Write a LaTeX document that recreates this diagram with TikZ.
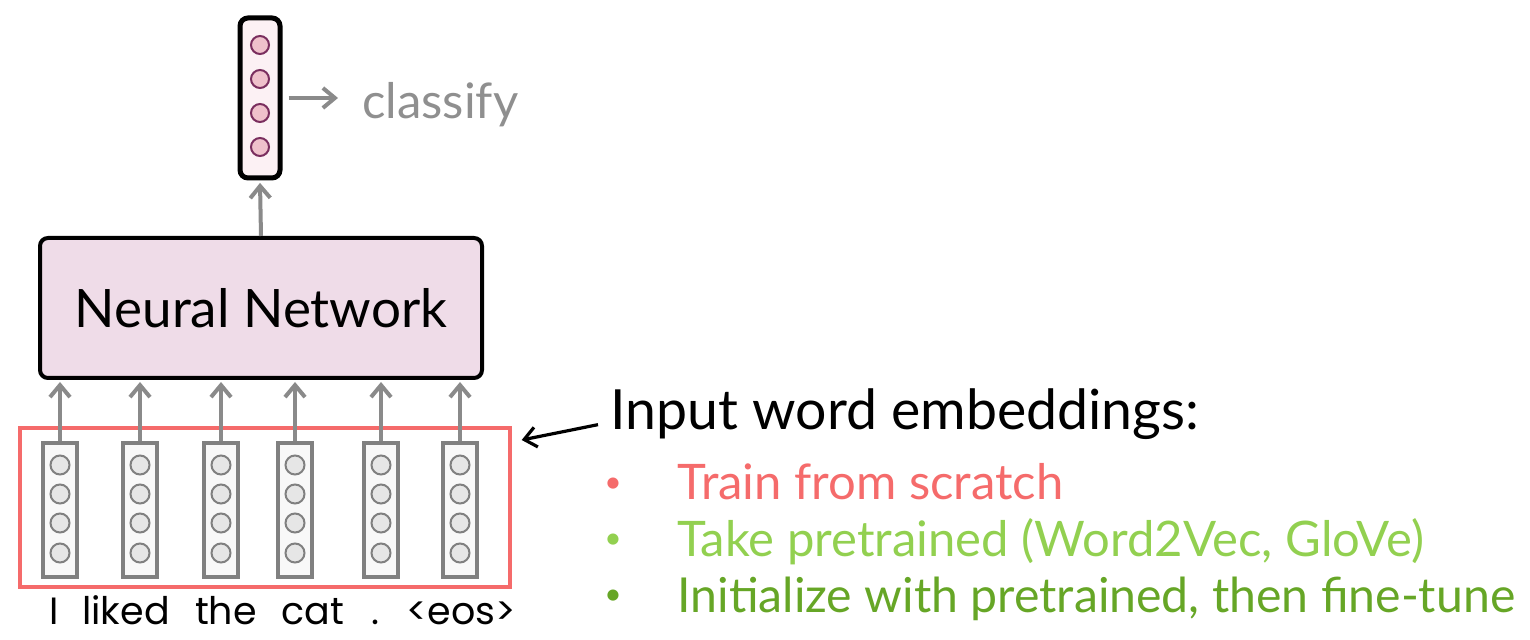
\documentclass[tikz,border=0pt]{standalone}
\usepackage{fontspec}
\setmainfont{Lato}
\newfontfamily\wordfont{Poppins}
\usetikzlibrary{arrows.meta}
\definecolor{garr}{HTML}{8A8A8A}
\definecolor{gtext}{HTML}{8F8F8F}
\definecolor{nnfill}{HTML}{EFDCE8}
\definecolor{vfill}{HTML}{FCF1F4}
\definecolor{cfill}{HTML}{EFC1CB}
\definecolor{cstroke}{HTML}{7A2E5E}
\definecolor{wfill}{HTML}{F8F8F8}
\definecolor{wcfill}{HTML}{E6E6E6}
\definecolor{wstroke}{HTML}{808080}
\definecolor{redc}{HTML}{F56B6B}
\definecolor{lgreen}{HTML}{92D050}
\definecolor{dgreen}{HTML}{66A626}
\tikzset{
  garrow/.style={draw=garr, line width=2pt, -{Straight Barb[length=6pt,width=10pt,line width=2pt]}},
  barrow/.style={draw=black, line width=1.6pt, -{Straight Barb[length=6pt,width=10pt,line width=1.6pt]}},
  outvec/.style={draw=black, line width=2.5pt, fill=vfill, rounded corners=4pt, minimum width=20pt, minimum height=80pt, inner sep=0pt},
  outcirc/.style={circle, draw=cstroke, line width=1pt, fill=cfill, minimum size=9pt, inner sep=0pt},
  nnbox/.style={draw=black, line width=2pt, fill=nnfill, rounded corners=4pt, minimum width=221pt, minimum height=70pt, inner sep=0pt},
  wvec/.style={draw=wstroke, line width=2pt, fill=wfill, minimum width=17pt, minimum height=67pt, inner sep=0pt},
  wcirc/.style={circle, draw=wstroke, line width=1pt, fill=wcfill, minimum size=9.5pt, inner sep=0pt},
  embbox/.style={draw=redc, line width=1.7pt, minimum width=245pt, minimum height=79.5pt, inner sep=0pt},
  word/.style={font=\wordfont\fontsize{19pt}{22pt}\selectfont, anchor=base, inner sep=0pt},
  bullet/.style={font=\fontsize{24.5pt}{28pt}\selectfont, anchor=base west, inner sep=0pt},
  dot/.style={font=\fontsize{15pt}{18pt}\selectfont, inner sep=0pt},
}
\begin{document}
\begin{tikzpicture}[x=0.5pt,y=-0.5pt]
\useasboundingbox (0,0) rectangle (1530,640);
% output vector
\node[outvec] (outv) at (260,98) {};
\foreach \i/\y in {1/45,2/79,3/113,4/147}{
  \node[outcirc] (o\i) at (260,\y) {};
}
\node[anchor=base west, inner sep=0pt, text=gtext, font=\fontsize{24.5pt}{28pt}\selectfont] (cls) at (362,119) {classify};
\draw[garrow] ([xshift=3pt]outv.east |- 0,98) -- ([xshift=-12pt]cls.west |- 0,98);
% neural network
\node[nnbox, font=\fontsize{26.5pt}{32pt}\selectfont] (nn) at (261,308) {Neural Network};
\draw[garrow] (nn.north) -- ([yshift=-1.2pt]outv.south);
% embeddings
\node[embbox] (emb) at (265,507.5) {};
\foreach \i/\x in {1/60,2/140,3/221,4/295,5/381,6/460}{
  \node[wvec] (w\i) at (\x,510) {};
  \foreach \j/\y in {1/465,2/494,3/523,4/553}{
    \node[wcirc] (w\i c\j) at (\x,\y) {};
  }
  \draw[garrow] (w\i.north) -- ([yshift=-1pt]nn.south -| w\i.north);
}
% words
\node[word] (t1) at (54,624) {I};
\node[word] (t2) at (126,624) {liked};
\node[word] (t3) at (226,624) {the};
\node[word] (t4) at (313,624) {cat};
\node[word] (t5) at (375,624) {.};
\node[word] (t6) at (461,624) {<eos>};
% right side text
\node[anchor=base west, inner sep=0pt, font=\fontsize{27.7pt}{32pt}\selectfont] (iwe) at (610,430) {Input word embeddings:};
\draw[barrow] ([xshift=-6pt,yshift=-5pt]iwe.west) -- ([xshift=5pt]emb.north east |- 0,440);
\node[dot, text=redc] (b1) at (613,485) {•};
\node[bullet, text=redc] (l1) at (677,500) {Train from scratch};
\node[dot, text=lgreen] (b2) at (613,541) {•};
\node[bullet, text=lgreen] (l2) at (677,556) {Take pretrained (Word2Vec, GloVe)};
\node[dot, text=dgreen] (b3) at (613,597) {•};
\node[bullet, text=dgreen, font=\fontsize{24.1pt}{28pt}\selectfont] (l3) at (677,612) {Initialize with pretrained, then fine-tune};
\end{tikzpicture}
\end{document}
